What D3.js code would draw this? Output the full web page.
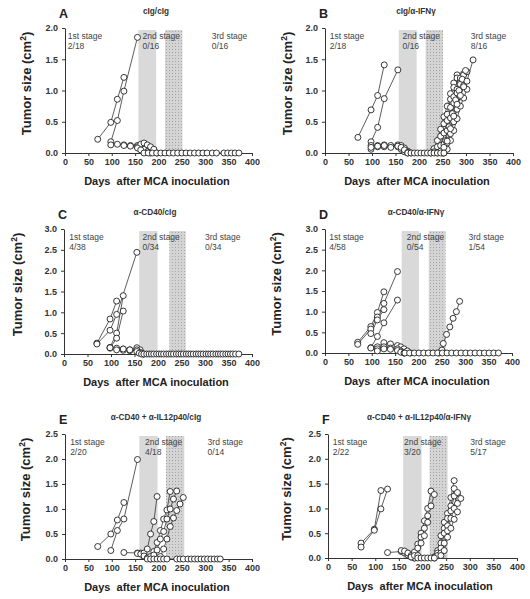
<!DOCTYPE html>
<html><head><meta charset="utf-8">
<script src="https://cdn.jsdelivr.net/npm/d3@7"></script>
<style>body{margin:0;background:#fff}svg{display:block}text{font-family:Arial,"Liberation Sans",sans-serif}</style>
</head><body>
<script>
// ---------- DATA ----------
const panelKeys = ["A","B","C","D","E","F"];
const panelTitles = ["cIg/cIg","cIg/α-IFNγ","α-CD40/cIg","α-CD40/α-IFNγ","α-CD40 + α-IL12p40/cIg","α-CD40 + α-IL12p40/α-IFNγ"];
const yMaxes = [2.0, 2.0, 3.0, 3.0, 2.5, 2.5];
const xTicks = [0,50,100,150,200,250,300,350,400];
const stageNames = ["1st stage","2nd stage","3rd stage"];
const stageA = ["2/18","0/16","0/16"];
const stageB = ["2/18","0/16","8/16"];
const stageC = ["4/38","0/34","0/34"];
const stageD = ["4/58","0/54","1/54"];
const stageE = ["2/20","4/18","0/14"];
const stageF = ["2/22","3/20","5/17"];
// treatment windows (days): [start,end]
const bandsA = [[157,195],[214,251]];
const bandsB = [[157,195],[214,251]];
const bandsC = [[160,199],[224,259]];
const bandsD = [[164,201],[222,258]];
const bandsE = [[159,198],[216,255]];
const bandsF = [[159,198],[215,253]];

const seriesA = [
 [[70,0.22],[98,0.49],[112,0.86],[126,1.21]],
 [[98,0.18],[112,0.52],[126,0.99],[155,1.85]],
 [[98,0.13],[112,0.14],[126,0.13],[140,0.12],[155,0.12],[162,0.10],[169,0.06],[176,0.02],[183,0]],
 [[155,0.10],[162,0.14],[169,0.16],[176,0.13],[183,0.10],[190,0.06],[197,0]],
 [[126,0.12],[140,0.11],[155,0.08],[162,0.05],[169,0.0]]
];
const zerosA = [178,187,196,205,214,223,232,241,250,259,268,277,286,295,304,315,324,340,348,356,364,372];

const seriesB = [
 [[70,0.25],[98,0.69],[112,0.92],[126,1.41]],
 [[98,0.18],[112,0.41],[126,0.87],[155,1.33]],
 [[98,0.12],[112,0.12],[126,0.13],[140,0.12],[155,0.13],[162,0.12],[169,0.08],[176,0.03],[183,0]],
 [[98,0.06],[112,0.10],[126,0.10],[140,0.09],[155,0.10],[162,0.06],[169,0.02],[176,0]],
 [[98,0.09],[112,0.11],[126,0.12],[155,0.11],[162,0.09],[169,0.05],[176,0.01]],
 [[225,0.0],[232,0.07],[239,0.20],[246,0.38],[253,0.58],[260,0.75],[267,0.95],[274,1.12],[281,1.25]],
 [[232,0.02],[239,0.10],[246,0.27],[253,0.47],[260,0.62],[267,0.86],[274,1.05],[281,1.20],[288,1.15]],
 [[239,0.0],[246,0.12],[253,0.32],[260,0.52],[267,0.73],[274,0.90],[281,1.02],[288,1.20],[295,1.27]],
 [[246,0.02],[253,0.14],[260,0.36],[267,0.56],[274,0.80],[281,0.96],[288,1.10],[295,1.25],[302,1.30]],
 [[250,0.0],[257,0.20],[264,0.42],[271,0.63],[278,0.85],[285,1.00],[292,1.18],[299,1.32]],
 [[253,0.05],[260,0.16],[267,0.31],[274,0.50],[281,0.70],[288,0.90],[295,1.08],[302,1.15],[315,1.49]],
 [[253,0.0],[260,0.06],[267,0.20],[274,0.36],[281,0.55],[288,0.75],[295,0.88],[302,1.02]],
 [[246,0.03],[253,0.09],[260,0.19],[267,0.39],[274,0.59],[281,0.78],[288,0.92],[295,1.06]]
];
const zerosB = [176,183,190,197,204,211,218,225,232,239,246,253];

const seriesC = [
 [[70,0.26],[98,0.84],[112,1.27]],
 [[70,0.24],[98,0.57],[112,0.95],[155,2.44]],
 [[98,0.16],[112,0.50],[126,1.40]],
 [[98,0.14],[112,0.38],[126,1.03]],
 [[98,0.15],[112,0.14],[126,0.12],[140,0.10],[155,0.15],[162,0.10],[169,0.0]],
 [[112,0.10],[126,0.09],[140,0.08],[155,0.10],[162,0.04],[169,0.0]],
 [[126,0.12],[140,0.10],[155,0.06],[160,0.02]]
];
const zerosC = [165,170,176,181,186,191,197,202,207,212,218,223,228,233,239,244,249,254,260,265,270,275,281,286,291,296,302,307,312,317,323,328,333,338,344,349,354,359,365,372];

const seriesD = [
 [[70,0.26],[98,0.64],[112,0.98],[126,1.48]],
 [[70,0.21],[98,0.58],[112,0.87],[126,1.20],[155,1.97]],
 [[98,0.47],[112,0.80],[126,1.05]],
 [[98,0.13],[112,0.40],[126,0.73],[155,1.28]],
 [[98,0.12],[112,0.15],[126,0.25],[140,0.22],[155,0.18],[162,0.15],[169,0.10],[176,0.05],[183,0]],
 [[112,0.10],[126,0.15],[140,0.12],[155,0.10],[162,0.05],[169,0]],
 [[112,0.05],[126,0.10],[140,0.09],[155,0.06],[162,0.02],[169,0]],
 [[244,0.0],[250,0.07],[253,0.23],[260,0.45],[267,0.63],[274,0.84],[281,1.00],[288,1.25]]
];
const zerosD = [171,181,191,201,211,221,231,241,251,261,271,281,291,301,311,321,331,341,351,361,371];

const seriesE = [
 [[70,0.25],[98,0.50],[112,0.78],[126,1.13]],
 [[98,0.17],[112,0.57],[126,0.80],[155,1.99]],
 [[126,0.13],[155,0.12],[162,0.12],[169,0.05],[176,0.02],[183,0]],
 [[155,0.11],[162,0.10],[169,0.12],[176,0.20],[183,0.50],[190,0.75],[197,1.25]],
 [[169,0.06],[176,0.02],[183,0.05],[190,0.15],[197,0.33],[204,0.57],[211,0.80],[218,0.98],[225,1.35]],
 [[190,0.08],[197,0.18],[204,0.40],[211,0.55],[218,0.80],[225,1.00],[232,1.20],[239,1.36]],
 [[204,0.05],[211,0.20],[218,0.40],[225,0.65],[232,0.82],[239,0.97],[246,1.10],[253,1.23]]
];
const zerosE = [176,183,190,197,204,211,218,239,246,253,263,270,277,284,291,298,305,312,319,326,332];

const seriesF = [
 [[70,0.30],[98,0.58],[112,1.36]],
 [[70,0.22],[98,0.56],[112,0.99],[126,1.39]],
 [[126,0.11],[155,0.13],[162,0.10],[169,0.06],[176,0.02],[183,0]],
 [[155,0.15],[162,0.14],[169,0.10],[176,0.05],[183,0.0]],
 [[176,0.02],[183,0.12],[190,0.28],[197,0.50],[204,0.75],[211,1.00],[218,1.35]],
 [[183,0.05],[190,0.20],[197,0.42],[204,0.60],[211,0.85],[218,1.05],[225,1.28]],
 [[190,0.05],[197,0.30],[204,0.45],[211,0.72]],
 [[225,0.02],[232,0.15],[239,0.45],[246,0.72],[253,0.90],[260,1.22],[267,1.56]],
 [[225,0.0],[232,0.10],[239,0.30],[246,0.60],[253,0.80],[260,1.05],[267,1.40],[274,1.30]],
 [[232,0.05],[239,0.20],[246,0.50],[253,0.65],[260,0.95],[267,1.25],[274,1.10]],
 [[239,0.10],[246,0.30],[253,0.55],[260,0.80],[267,1.00],[274,1.32],[281,1.20]],
 [[239,0.05],[246,0.15],[253,0.42],[260,0.60],[267,0.78],[274,0.93]]
];
const zerosF = [190,197,204,211,218,225];

const allSeries = [seriesA,seriesB,seriesC,seriesD,seriesE,seriesF];
const allZeros = [zerosA,zerosB,zerosC,zerosD,zerosE,zerosF];
const allStages = [stageA,stageB,stageC,stageD,stageE,stageF];
const allBands = [bandsA,bandsB,bandsC,bandsD,bandsE,bandsF];
const stageDays = [[6,166,314],[10,165,310],[11,167,300],[9,175,307],[11,171,305],[10,161,301]];

// ---------- LAYOUT ----------
const layout = [
 {x0:65, x1:252, yTop:28,  yBot:153, ylabX:27},
 {x0:325,x1:513, yTop:28,  yBot:153, ylabX:288},
 {x0:64, x1:252, yTop:229, yBot:354, ylabX:18},
 {x0:325,x1:512, yTop:229, yBot:353, ylabX:277},
 {x0:65, x1:252, yTop:434, yBot:559, ylabX:26},
 {x0:328,x1:517, yTop:434, yBot:558, ylabX:287}
];

const svg = d3.select("body").append("svg").attr("width",530).attr("height",599);
const defs = svg.append("defs");
const pat = defs.append("pattern").attr("id","dots").attr("patternUnits","userSpaceOnUse").attr("width",3).attr("height",3);
pat.append("rect").attr("width",3).attr("height",3).attr("fill","#d4d4d4");
pat.append("rect").attr("x",1).attr("y",1).attr("width",1).attr("height",1).attr("fill","#a4a4a4");

panelKeys.forEach((k,i)=>{
  const L = layout[i];
  const x = d3.scaleLinear().domain([0,400]).range([L.x0,L.x1]);
  const y = d3.scaleLinear().domain([0,yMaxes[i]]).range([L.yBot,L.yTop]);
  const g = svg.append("g");

  // bands
  allBands[i].forEach((b,j)=>{
    g.append("rect").attr("x",x(b[0])).attr("width",x(b[1])-x(b[0]))
     .attr("y",L.yTop+2).attr("height",L.yBot-L.yTop-2)
     .attr("fill", j===0 ? "#d9d9d9" : "url(#dots)");
  });

  // axes
  const yTicks = d3.range(0, yMaxes[i]+0.001, 0.5);
  const xa = g.append("g").attr("transform",`translate(0,${L.yBot})`)
    .call(d3.axisBottom(x).tickValues(xTicks).tickSize(3).tickSizeOuter(0).tickFormat(d3.format("d")));
  const ya = g.append("g").attr("transform",`translate(${L.x0},0)`)
    .call(d3.axisLeft(y).tickValues(yTicks).tickSize(3).tickSizeOuter(0).tickFormat(d3.format(".1f")));
  [xa,ya].forEach(a=>{
    a.select(".domain").attr("stroke","#333").attr("stroke-width",1);
    a.selectAll(".tick line").attr("stroke","#333");
    a.selectAll("text").attr("font-size",9).attr("fill","#333").attr("font-weight","bold");
  });
  ya.selectAll("text").attr("dx","-1");

  // lines
  const line = d3.line().x(d=>x(d[0])).y(d=>y(d[1]));
  const ser = allSeries[i];
  const zeroPts = allZeros[i].map(d=>[d,0]);
  g.append("path").datum(zeroPts).attr("d",line).attr("fill","none").attr("stroke","#333").attr("stroke-width",0.8);
  ser.forEach(s=>{
    g.append("path").datum(s).attr("d",line).attr("fill","none").attr("stroke","#333").attr("stroke-width",0.8);
  });
  const pts = ser.flat().concat(zeroPts);
  g.selectAll("circle.pt").data(pts).enter().append("circle").attr("class","pt")
    .attr("cx",d=>x(d[0])).attr("cy",d=>y(d[1])).attr("r",3)
    .attr("fill","#fff").attr("stroke","#222").attr("stroke-width",0.9);

  // stage texts
  stageNames.forEach((n,j)=>{
    const t = g.append("text").attr("x",x(stageDays[i][j])).attr("y",L.yTop+11)
      .attr("font-size",8.5).attr("fill","#444");
    t.append("tspan").attr("x",x(stageDays[i][j])).text(n);
    t.append("tspan").attr("x",x(stageDays[i][j])).attr("dy",10).text(allStages[i][j]);
  });

  // panel letter & title
  g.append("text").attr("x",L.x0-6).attr("y",L.yTop-10).attr("font-size",12.5).attr("font-weight","bold").attr("fill","#222").text(k);
  g.append("text").attr("x",L.x0+91).attr("y",L.yTop-14).attr("text-anchor","middle").attr("font-size",8.2).attr("font-weight","bold").attr("fill","#333").text(panelTitles[i]);

  // axis labels
  g.append("text").attr("x",L.x0+92).attr("y",L.yBot+32).attr("text-anchor","middle")
    .attr("font-size",11).attr("font-weight","bold").attr("fill","#222").text("Days  after MCA inoculation")
    .attr("xml:space","preserve").style("white-space","pre");
  const cy = (L.yTop+L.yBot)/2 - 7;
  const yl = g.append("text").attr("transform",`translate(${L.ylabX+4},${cy}) rotate(-90)`)
    .attr("text-anchor","middle").attr("font-size",13).attr("font-weight","bold").attr("fill","#222");
  yl.append("tspan").text("Tumor size (cm");
  yl.append("tspan").attr("font-size",8.5).attr("dy",-5).text("2");
  yl.append("tspan").attr("dy",5).text(")");
});
</script>
</body></html>
